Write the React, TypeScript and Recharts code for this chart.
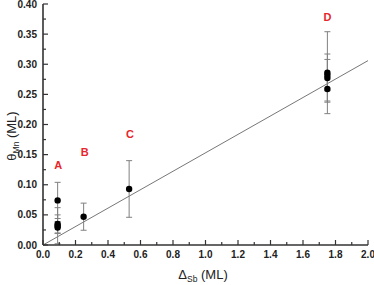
import React from 'react';
import { ScatterChart, Scatter, XAxis, YAxis, ErrorBar, ReferenceLine } from 'recharts';

const xMajorTicks = [0, 0.2, 0.4, 0.6, 0.8, 1.0, 1.2, 1.4, 1.6, 1.8, 2.0];
const xMinorTicks = [0.1, 0.3, 0.5, 0.7, 0.9, 1.1, 1.3, 1.5, 1.7, 1.9];
const yMajorTicks = [0, 0.05, 0.1, 0.15, 0.2, 0.25, 0.3, 0.35, 0.4];
const yMinorTicks = [0.025, 0.075, 0.125, 0.175, 0.225, 0.275, 0.325, 0.375];

const deltaSb = [0.09, 0.09, 0.09, 0.09, 0.25, 0.53, 1.75, 1.75, 1.75, 1.75];
const thetaMn = [0.074, 0.035, 0.032, 0.029, 0.047, 0.093, 0.286, 0.282, 0.277, 0.259];
const thetaErr = [0.03, 0.015, 0.03, 0.01, 0.0225, 0.047, 0.068, 0.026, 0.04, 0.02];

const fitLine = [{ x: 0, y: 0 }, { x: 2.0, y: 0.306 }];

const labelNames = ['A', 'B', 'C', 'D'];
const labelX = [0.094, 0.257, 0.535, 1.75];
const labelY = [0.132, 0.154, 0.185, 0.378];

const points = deltaSb.map((x, i) => ({ x, y: thetaMn[i], err: thetaErr[i] }));
const labels = labelNames.map((name, i) => ({ x: labelX[i], y: labelY[i], name }));

const FONT = '"Liberation Sans", Arial, sans-serif';
const AXIS = '#333333';

const isMajor = (v: number, arr: number[]) => arr.some((m) => Math.abs(m - v) < 1e-9);

const BottomTick = (props: any) => {
  const { x, y, payload } = props;
  const major = isMajor(payload.value, xMajorTicks);
  return (
    <g>
      <line x1={x} y1={y} x2={x} y2={y - (major ? 5 : 3)} stroke={AXIS} strokeWidth={1.2} />
      {major && (
        <text x={x} y={y + 13} textAnchor="middle" fontFamily={FONT} fontWeight="bold" fontSize={10} fill="#222">
          {payload.value.toFixed(1)}
        </text>
      )}
    </g>
  );
};

const TopTick = (props: any) => {
  const { x, y, payload } = props;
  const major = isMajor(payload.value, xMajorTicks);
  return <line x1={x} y1={y} x2={x} y2={y + (major ? 5 : 3)} stroke={AXIS} strokeWidth={1.2} />;
};

const LeftTick = (props: any) => {
  const { x, y, payload } = props;
  const major = isMajor(payload.value, yMajorTicks);
  return (
    <g>
      <line x1={x} y1={y} x2={x + (major ? 5 : 3)} y2={y} stroke={AXIS} strokeWidth={1.2} />
      {major && (
        <text x={x - 6} y={y + 3.5} textAnchor="end" fontFamily={FONT} fontWeight="bold" fontSize={10} fill="#222">
          {payload.value.toFixed(2)}
        </text>
      )}
    </g>
  );
};

const RightTick = (props: any) => {
  const { x, y, payload } = props;
  const major = isMajor(payload.value, yMajorTicks);
  return <line x1={x} y1={y} x2={x - (major ? 5 : 3)} y2={y} stroke={AXIS} strokeWidth={1.2} />;
};

const LabelShape = (props: any) => {
  const { cx, cy, payload } = props;
  return (
    <text x={cx} y={cy + 4} textAnchor="middle" fontFamily={FONT} fontWeight="bold" fontSize={11} fill="#e8252a">
      {payload.name}
    </text>
  );
};

const DotShape = (props: any) => {
  const { cx, cy } = props;
  return <circle cx={cx} cy={cy} r={3.2} fill="#000" />;
};

export default function App() {
  const allX = [...xMajorTicks, ...xMinorTicks].sort((a, b) => a - b);
  const allY = [...yMajorTicks, ...yMinorTicks].sort((a, b) => a - b);
  return (
    <div style={{ position: 'absolute', left: 0, top: 0 }}>
      <ScatterChart width={374} height={285} margin={{ top: 4, right: 6, bottom: 0, left: 0 }}>
        <XAxis
          xAxisId="b"
          type="number"
          dataKey="x"
          domain={[0, 2]}
          ticks={allX}
          interval={0}
          tickSize={0}
          tickMargin={0}
          height={40}
          tick={<BottomTick />}
          tickLine={false}
          axisLine={{ stroke: AXIS, strokeWidth: 1.6 }}
          allowDataOverflow
        />
        <XAxis
          xAxisId="t"
          orientation="top"
          type="number"
          dataKey="x"
          domain={[0, 2]}
          ticks={allX}
          interval={0}
          tickSize={0}
          tickMargin={0}
          height={0}
          tick={<TopTick />}
          tickLine={false}
          axisLine={{ stroke: AXIS, strokeWidth: 1.6 }}
          allowDataOverflow
        />
        <YAxis
          yAxisId="l"
          type="number"
          dataKey="y"
          domain={[0, 0.4]}
          ticks={allY}
          interval={0}
          tickSize={0}
          tickMargin={0}
          width={43}
          tick={<LeftTick />}
          tickLine={false}
          axisLine={{ stroke: AXIS, strokeWidth: 1.6 }}
          allowDataOverflow
        />
        <YAxis
          yAxisId="r"
          orientation="right"
          type="number"
          dataKey="y"
          domain={[0, 0.4]}
          ticks={allY}
          interval={0}
          tickSize={0}
          tickMargin={0}
          width={0}
          tick={<RightTick />}
          tickLine={false}
          axisLine={{ stroke: AXIS, strokeWidth: 1.6 }}
          allowDataOverflow
        />
        <ReferenceLine
          xAxisId="b"
          yAxisId="l"
          segment={fitLine}
          stroke="#777"
          strokeWidth={1}
          ifOverflow="visible"
        />
        <Scatter xAxisId="b" yAxisId="l" data={points} shape={<DotShape />} isAnimationActive={false}>
          <ErrorBar dataKey="err" direction="y" width={3} stroke="#808080" strokeWidth={1} />
        </Scatter>
        <Scatter xAxisId="b" yAxisId="l" data={labels} shape={<LabelShape />} isAnimationActive={false} />
        <text x={203} y={279} textAnchor="middle" fontFamily={FONT} fontSize={13} fill="#222">
          <tspan>Δ</tspan>
          <tspan fontSize={8.5} dy={2.5}>Sb</tspan>
          <tspan dy={-2.5}> (ML)</tspan>
        </text>
        <text
          x={16}
          y={136}
          transform="rotate(-90 16 136)"
          textAnchor="middle"
          fontFamily={FONT}
          fontSize={13}
          fill="#222"
        >
          <tspan>θ</tspan>
          <tspan fontSize={8.5} dy={3}>Mn</tspan>
          <tspan dy={-3}> (ML)</tspan>
        </text>
      </ScatterChart>
    </div>
  );
}
